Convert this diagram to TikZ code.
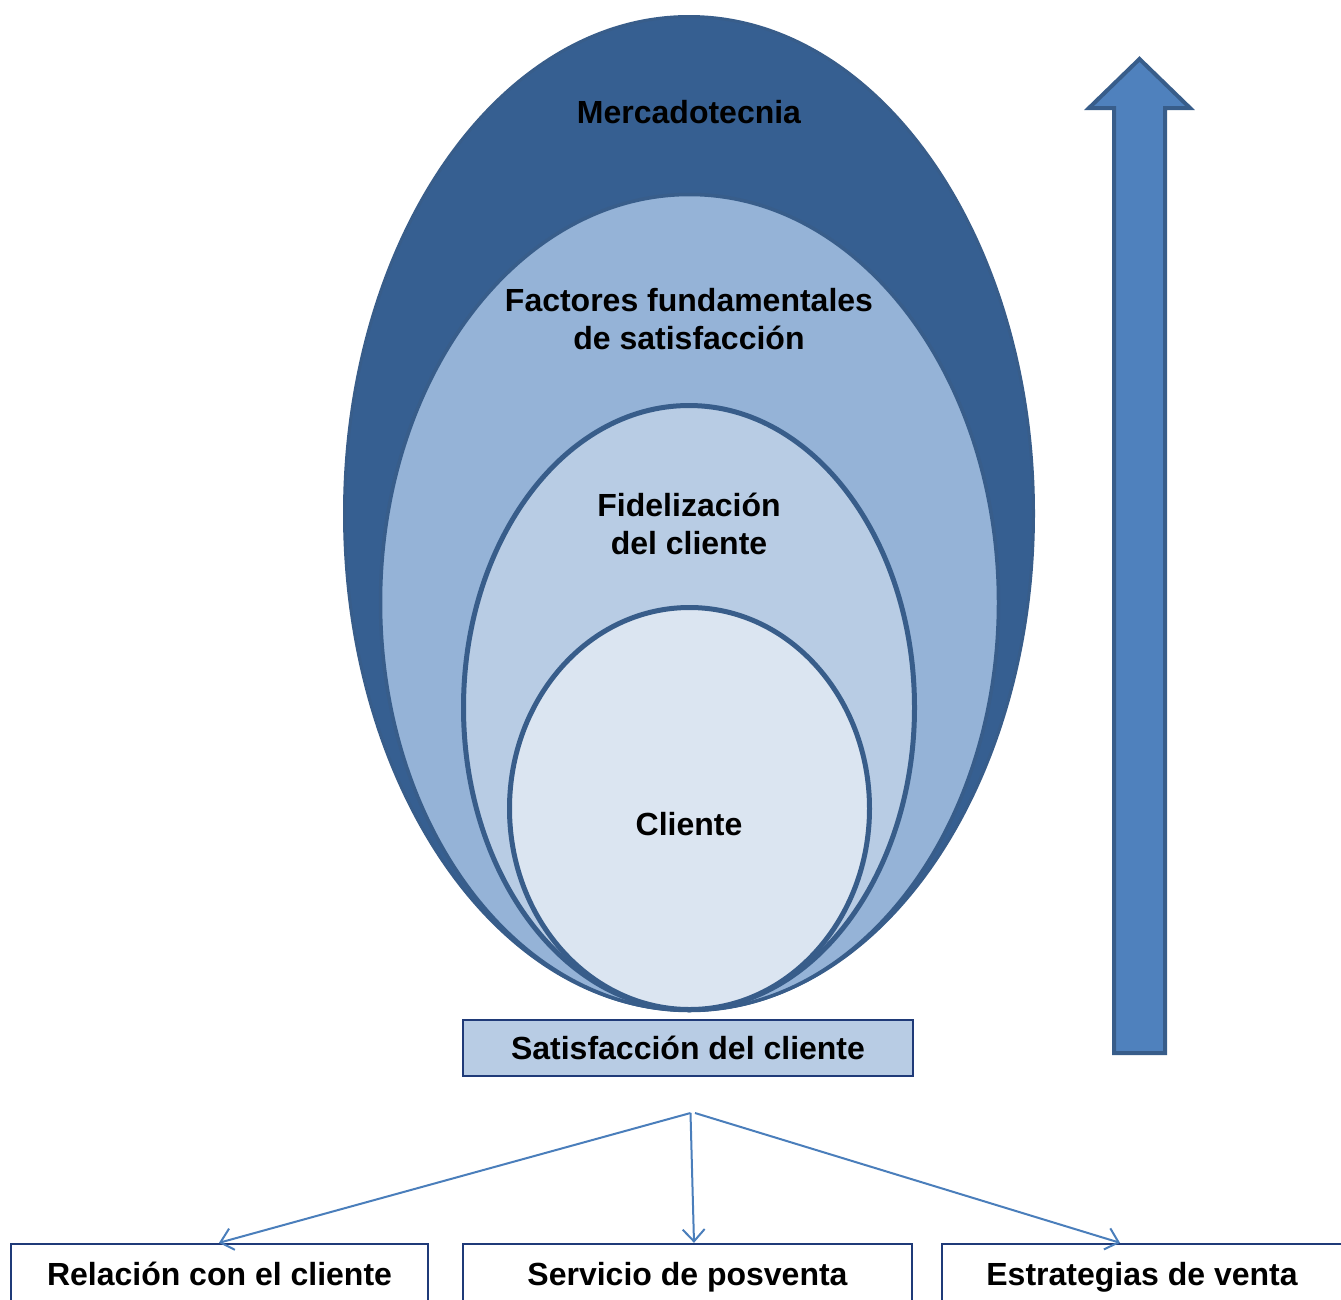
\documentclass[tikz,border=0pt]{standalone}
\usepackage{fontspec}
\setmainfont{Liberation Sans}
\usetikzlibrary{shapes.geometric,arrows.meta,calc}

\definecolor{deepblue}{HTML}{365F91}
\definecolor{edgeblue}{HTML}{385D8A}
\definecolor{midblue}{HTML}{95B3D7}
\definecolor{paleblue}{HTML}{B8CCE4}
\definecolor{softblue}{HTML}{DBE5F1}
\definecolor{arrowblue}{HTML}{4F81BD}
\definecolor{navy}{HTML}{1F3A78}
\definecolor{linkblue}{HTML}{4A7EBB}

\tikzset{
  layer/.style={ellipse, inner sep=0pt, draw=edgeblue},
  caption/.style={font=\bfseries\fontsize{32}{38}\selectfont, align=center, inner sep=0pt},
  labelbox/.style={rectangle, draw=navy, line width=2.4pt, inner sep=0pt,
    font=\bfseries\fontsize{32}{38}\selectfont, text height=23pt, text depth=0pt},
  link/.style={draw=linkblue, line width=2pt, -{Straight Barb[length=12pt,width=22pt,line width=2pt]}}
}

\begin{document}
\begin{tikzpicture}[x=1pt, y=-1pt]
  \useasboundingbox (0,0) rectangle (1341,1299);
  \clip (0,0) rectangle (1341,1299);

  % nested ellipses, outermost first
  \node[layer, fill=deepblue, line width=3pt, minimum width=689pt, minimum height=994pt] (mkt) at (689,513.5) {};
  \node[layer, fill=midblue, line width=3.5pt, minimum width=618pt, minimum height=816pt] (fac) at (689.5,602.5) {};
  \node[layer, fill=paleblue, line width=5pt, minimum width=451pt, minimum height=604pt] (fid) at (689,707.5) {};
  \node[layer, fill=softblue, line width=5pt, minimum width=360pt, minimum height=402pt] (cli) at (689.5,808.5) {};

  \node[caption] (tmkt) at (689,112) {Mercadotecnia};
  \node[caption] (tfac) at (689,319) {Factores fundamentales\\de satisfacción};
  \node[caption] (tfid) at (689,524) {Fidelización\\del cliente};
  \node[caption] (tcli) at (689,824) {Cliente};

  % base box
  \node[labelbox, fill=paleblue, minimum width=450pt, minimum height=56pt] (sat) at (688,1048) {Satisfacción del cliente};

  % upward arrow
  \draw[fill=arrowblue, draw=edgeblue, line width=4pt, line join=miter]
    (1114,1053) -- (1114,108) -- (1089,108) -- (1139.5,59) -- (1190,108)
    -- (1165,108) -- (1165,1053) -- cycle;

  % lower boxes
  \node[labelbox, fill=white, minimum width=417pt, minimum height=60pt] (rel) at (219.5,1274) {Relación con el cliente};
  \node[labelbox, fill=white, minimum width=449pt, minimum height=60pt] (ser) at (687.5,1274) {Servicio de posventa};
  \node[labelbox, fill=white, minimum width=400pt, minimum height=60pt] (est) at (1142,1274) {Estrategias de venta};

  % connectors
  \coordinate (forkL) at (690.5,1113);
  \coordinate (forkR) at (695,1113);
  \coordinate (relIn) at ([xshift=-0.5pt]rel.north);
  \coordinate (serIn) at ([xshift=6.5pt]ser.north);
  \coordinate (estIn) at ([xshift=-22pt]est.north);
  \draw[link] (forkL) -- (relIn);
  \draw[link] (forkL) -- (serIn);
  \draw[link] (forkR) -- (estIn);
\end{tikzpicture}
\end{document}
